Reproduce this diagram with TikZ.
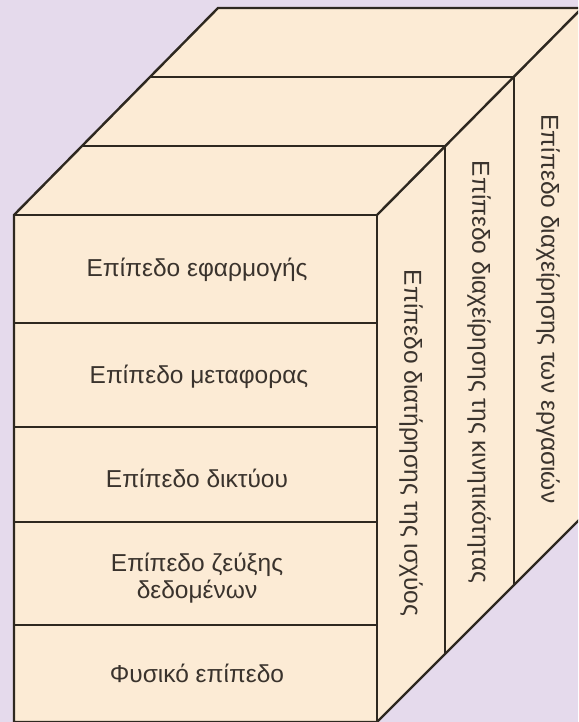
\documentclass[tikz,border=0pt]{standalone}
\usepackage{fontspec}
\setmainfont{Liberation Sans}
\definecolor{bgc}{HTML}{E5DAEC}
\definecolor{boxc}{HTML}{FCEBD5}
\definecolor{linec}{HTML}{2E2820}
\definecolor{txtc}{HTML}{3A332D}
\tikzset{
  edge/.style={draw=linec, line width=2.4pt, line join=miter},
  facefill/.style={fill=boxc},
  lbl/.style={text=txtc, font=\fontsize{24.5}{27}\selectfont, align=center, inner sep=0pt},
  vlbl/.style={lbl, rotate=-90},
}
\begin{document}
\begin{tikzpicture}[x=1pt,y=-1pt]
\useasboundingbox (0,0) rectangle (578,722);
\clip (0,0) rectangle (578,722);
\fill[bgc] (0,0) rectangle (578,722);
% corners
\coordinate (FTL) at (14,215);
\coordinate (FTR) at (377,215);
\coordinate (FBL) at (14,722);
\coordinate (FBR) at (377,722);
\coordinate (BTL) at (218,8);
\coordinate (BTR) at (582,8);
\coordinate (BBR) at (582,517);
\coordinate (L1) at (82,146);
\coordinate (R1) at (445,146);
\coordinate (L2) at (150,77);
\coordinate (R2) at (514,77);
\coordinate (B1) at (445,654);
\coordinate (B2) at (514,585);
% faces
\fill[facefill] (FTL) -- (FTR) -- (FBR) -- (FBL) -- cycle;
\fill[facefill] (FTL) -- (BTL) -- (BTR) -- (FTR) -- cycle;
\fill[facefill] (FTR) -- (BTR) -- (BBR) -- (FBR) -- cycle;
% outline
\draw[edge] (FBL) -- (FTL) -- (BTL) -- (BTR) -- (BBR) -- (FBR) -- (FBL);
\draw[edge] (FTL) -- (FTR) -- (FBR);
\draw[edge] (FTR) -- (BTR);
% slabs
\draw[edge] (L1) -- (R1) -- (B1);
\draw[edge] (L2) -- (R2) -- (B2);
% rows
\coordinate (r1l) at (14,323); \coordinate (r1r) at (377,323);
\coordinate (r2l) at (14,427); \coordinate (r2r) at (377,427);
\coordinate (r3l) at (14,522); \coordinate (r3r) at (377,522);
\coordinate (r4l) at (14,625); \coordinate (r4r) at (377,625);
\draw[edge] (r1l) -- (r1r);
\draw[edge] (r2l) -- (r2r);
\draw[edge] (r3l) -- (r3r);
\draw[edge] (r4l) -- (r4r);
% front labels
\node[lbl] (app) at (197,270) {Επίπεδο εφαρμογής};
\node[lbl] (trn) at (199,377) {Επίπεδο μεταφορας};
\node[lbl] (net) at (197,478) {Επίπεδο δικτύου};
\node[lbl] (dlk) at (197,578) {Επίπεδο ζεύξης\\δεδομένων};
\node[lbl] (phy) at (197,673) {Φυσικό επίπεδο};
% side labels
\node[vlbl] (pwr) at (411,443) {Επίπεδο διατήρησης της ισχύος};
\node[vlbl] (mob) at (479,372) {Επίπεδο διαχείρησης της κινητικότητας};
\node[vlbl] (tsk) at (548,309) {Επίπεδο διαχείρησης των εργασιών};
\end{tikzpicture}
\end{document}
